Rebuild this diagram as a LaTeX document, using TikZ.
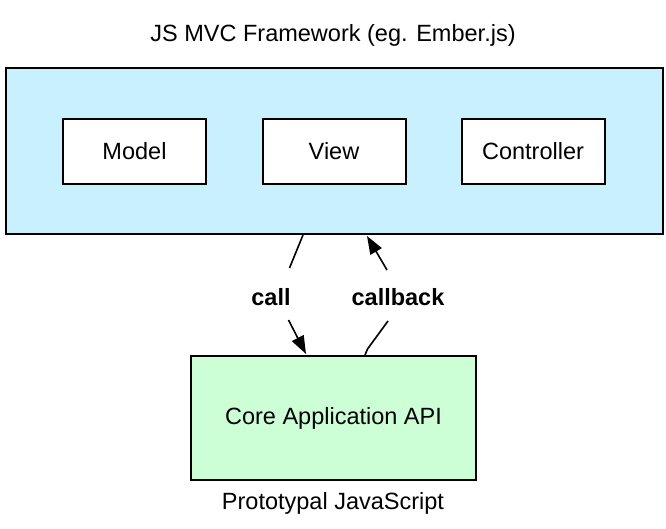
\documentclass[tikz,border=0pt]{standalone}
\usepackage{fontspec}
\setmainfont{Liberation Sans}
\usetikzlibrary{arrows.meta}
\definecolor{mvcblue}{RGB}{200,240,255}
\definecolor{apigreen}{RGB}{204,255,214}
\begin{document}
\begin{tikzpicture}[x=1pt,y=-1pt,
  txt/.style={font=\fontsize{23.5}{28}\selectfont},
  lbl/.style={font=\fontsize{23.5}{28}\selectfont\bfseries},
  frame/.style={draw=black,line width=2pt,inner sep=0pt},
  comp/.style={frame,fill=white,minimum width=143pt,minimum height=65pt,txt},
  conn/.style={line width=1.6pt,line join=round},
  arr/.style={conn,-{Triangle[length=18pt,width=13pt]}}]
\useasboundingbox (0,0) rectangle (666,528);
\node[txt] (title) at (333,35) {JS MVC Framework (eg. Ember.js)};
\node[frame,fill=mvcblue,minimum width=657pt,minimum height=166pt] (mvc) at (334.5,151) {};
\node[comp] (model) at (134.5,151.5) {Model};
\node[comp] (view) at (334,151.5) {View};
\node[comp] (ctrl) at (533,151.5) {Controller};
\node[frame,fill=apigreen,minimum width=285pt,minimum height=124pt,txt] (api) at (333.5,418) {Core Application API};
\node[txt] (proto) at (333,503) {Prototypal JavaScript};
\node[lbl] (call) at (271,297) {call};
\node[lbl] (callback) at (398,297) {callback};
% call connector
\path (mvc.south west) ++(298,0) coordinate (callA);
\coordinate (callB) at (289.5,268);
\coordinate (callC) at (288.5,320);
\path (api.north west) ++(116,-1) coordinate (callD);
\draw[conn] (callA) -- (callB);
\draw[arr] (callC) -- (callD);
% callback connector
\path (api.north west) ++(175,0) coordinate (cbA);
\coordinate (cbK) at (367.5,349);
\coordinate (cbB) at (388,321);
\coordinate (cbC) at (387,270);
\path (mvc.south west) ++(362,1) coordinate (cbD);
\draw[conn] (cbA) -- (cbK) -- (cbB);
\draw[arr] (cbC) -- (cbD);
\end{tikzpicture}
\end{document}
